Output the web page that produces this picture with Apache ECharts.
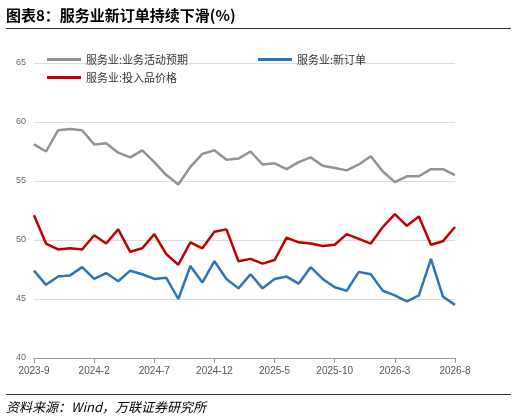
<!DOCTYPE html><html><head><meta charset="utf-8"><script src="https://cdn.jsdelivr.net/npm/echarts@6/dist/echarts.min.js"></script>
<style>body{margin:0;background:#fff}#t{position:absolute;left:6px;top:4px;font:bold 15px "Noto Sans CJK SC";color:#000;width:505px;border-bottom:1.5px solid #333;padding-bottom:3px}#s{position:absolute;left:6px;top:394px;font:italic 13px "Noto Sans CJK SC";color:#000;width:505px;border-top:1.5px solid #333;padding-top:2px}#c{position:absolute;left:0;top:0;width:517px;height:419px}</style></head><body>
<div id="c"></div><div id="t">图表8：服务业新订单持续下滑(%)</div><div id="s">资料来源：Wind，万联证券研究所</div>
<script>
const months=[];for(let i=0;i<36;i++){const y=2023+Math.floor((8+i)/12),m=(8+i)%12+1;months.push(y+'-'+m);}
const activity=[58.1,57.5,59.3,59.4,59.3,58.1,58.2,57.4,57.0,57.6,56.6,55.5,54.7,56.2,57.3,57.6,56.8,56.9,57.5,56.4,56.5,56.0,56.6,57.0,56.3,56.1,55.9,56.4,57.1,55.8,54.9,55.4,55.4,56.0,56.0,55.5];
const newOrders=[47.4,46.2,46.9,47.0,47.7,46.7,47.2,46.5,47.4,47.1,46.7,46.8,45.0,47.8,46.4,48.2,46.7,45.9,47.1,45.9,46.7,46.9,46.3,47.7,46.7,46.0,45.7,47.3,47.1,45.7,45.3,44.8,45.3,48.4,45.2,44.5];
const inputPrice=[52.1,49.7,49.2,49.3,49.2,50.4,49.7,50.9,49.0,49.3,50.5,48.8,47.9,49.8,49.3,50.7,50.9,48.2,48.4,48.0,48.3,50.2,49.8,49.7,49.5,49.6,50.5,50.1,49.7,51.1,52.2,51.2,52.0,49.6,49.9,51.1];
const c=echarts.init(document.getElementById('c'));
const ln=(n,d,col)=>({name:n,type:'line',data:d,symbol:'none',lineStyle:{color:col,width:2.5},itemStyle:{color:col}});
const lg={itemWidth:34,itemHeight:3,icon:'rect',itemGap:70,textStyle:{fontSize:11,color:'#333',fontFamily:'Noto Sans CJK SC'}};
c.setOption({animation:false,
grid:{left:34,right:62,top:63,bottom:61},
legend:[Object.assign({left:42,top:49,data:['服务业:业务活动预期','服务业:新订单']},lg),Object.assign({left:42,top:67,data:['服务业:投入品价格']},lg)],
xAxis:{type:'category',data:months,boundaryGap:false,axisLine:{lineStyle:{color:'#999'}},axisTick:{show:true,interval:4,lineStyle:{color:'#999'}},axisLabel:{interval:4,fontSize:10,color:'#555'}},
yAxis:{type:'value',min:40,max:65,interval:5,axisLine:{show:false},axisTick:{show:false},splitLine:{lineStyle:{color:'#ddd'}},axisLabel:{fontSize:9,color:'#666'}},
series:[ln('服务业:业务活动预期',activity,'#929292'),ln('服务业:新订单',newOrders,'#2e75b6'),ln('服务业:投入品价格',inputPrice,'#c00000')]});
</script></body></html>
